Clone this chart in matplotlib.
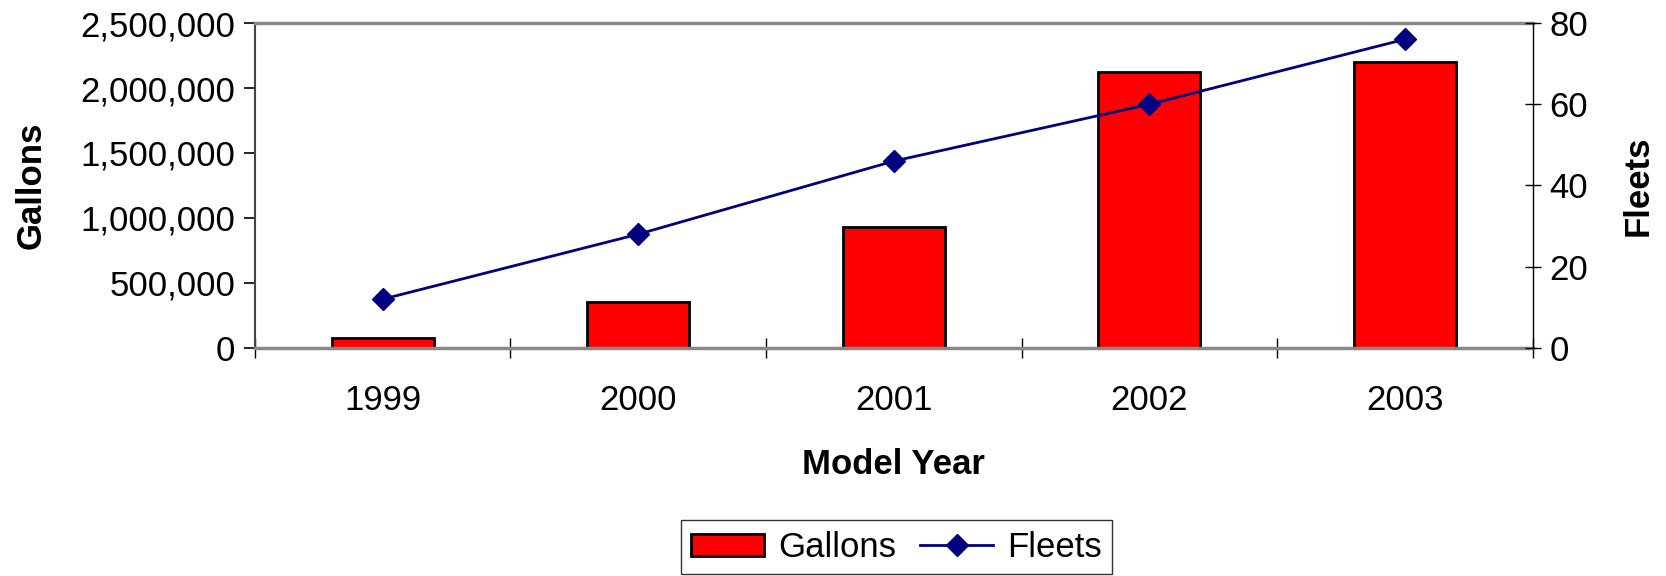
import matplotlib
matplotlib.use('Agg')
import matplotlib.pyplot as plt
from matplotlib.ticker import FuncFormatter

plt.rcParams['font.family'] = ['Liberation Sans', 'DejaVu Sans']

years = ['1999', '2000', '2001', '2002', '2003']
gallons = [75000, 350000, 930000, 2120000, 2200000]
fleets = [12, 28, 46, 60, 76]

fig = plt.figure(figsize=(16.66, 5.76), dpi=100)
ax = fig.add_axes([0.153, 0.396, 0.767, 0.564])

x = list(range(len(years)))
bars = ax.bar(x, gallons, width=0.4, color='#ff0000', edgecolor='black',
              linewidth=2, label='Gallons', zorder=2)

ax.set_xlim(-0.5, len(years) - 0.5)
ax.set_ylim(0, 2500000)
ax.set_yticks([0, 500000, 1000000, 1500000, 2000000, 2500000])
ax.yaxis.set_major_formatter(FuncFormatter(lambda v, p: f'{int(v):,}'))
ax.set_xticks(x)
ax.set_xticklabels(years)
ax.set_xticks([i - 0.5 for i in range(len(years) + 1)], minor=True)
ax.tick_params(axis='x', which='major', length=0, pad=26, labelsize=25)
ax.tick_params(axis='x', which='minor', direction='inout', length=14, width=1)
ax.tick_params(axis='y', direction='out', length=8, width=1.2, labelsize=25, pad=6)

ax.spines['top'].set_color('#888888')
ax.spines['top'].set_linewidth(2.5)
ax.spines['bottom'].set_color('#888888')
ax.spines['bottom'].set_linewidth(2.5)
ax.spines['left'].set_color('#444444')
ax.spines['left'].set_linewidth(1.5)
ax.spines['right'].set_visible(False)

ax.set_xlabel('Model Year', fontsize=25, fontweight='bold', labelpad=22)
ax.set_ylabel('Gallons', fontsize=25, fontweight='bold', labelpad=24)

ax2 = ax.twinx()
line, = ax2.plot(x, fleets, color='#000080', linewidth=2, marker='D',
                 markersize=11, label='Fleets', zorder=3)
ax2.set_ylim(0, 80)
ax2.set_yticks([0, 20, 40, 60, 80])
ax2.tick_params(axis='y', direction='inout', length=12, width=1, labelsize=25, pad=6)
ax2.spines['right'].set_color('black')
ax2.spines['right'].set_linewidth(1)
for s in ['top', 'bottom', 'left']:
    ax2.spines[s].set_visible(False)
ax2.set_ylabel('Fleets', fontsize=25, fontweight='bold', labelpad=24)

leg = fig.legend(handles=[bars, line], labels=['Gallons', 'Fleets'],
                 loc='lower center', bbox_to_anchor=(0.538, 0.003), ncol=2,
                 fontsize=25, frameon=True, fancybox=False, edgecolor='black',
                 handlelength=2.1, handleheight=0.6, columnspacing=0.7,
                 handletextpad=0.4, borderpad=0.3, borderaxespad=0)
leg.get_frame().set_linewidth(1)

fig.savefig('out.png', dpi=100)
